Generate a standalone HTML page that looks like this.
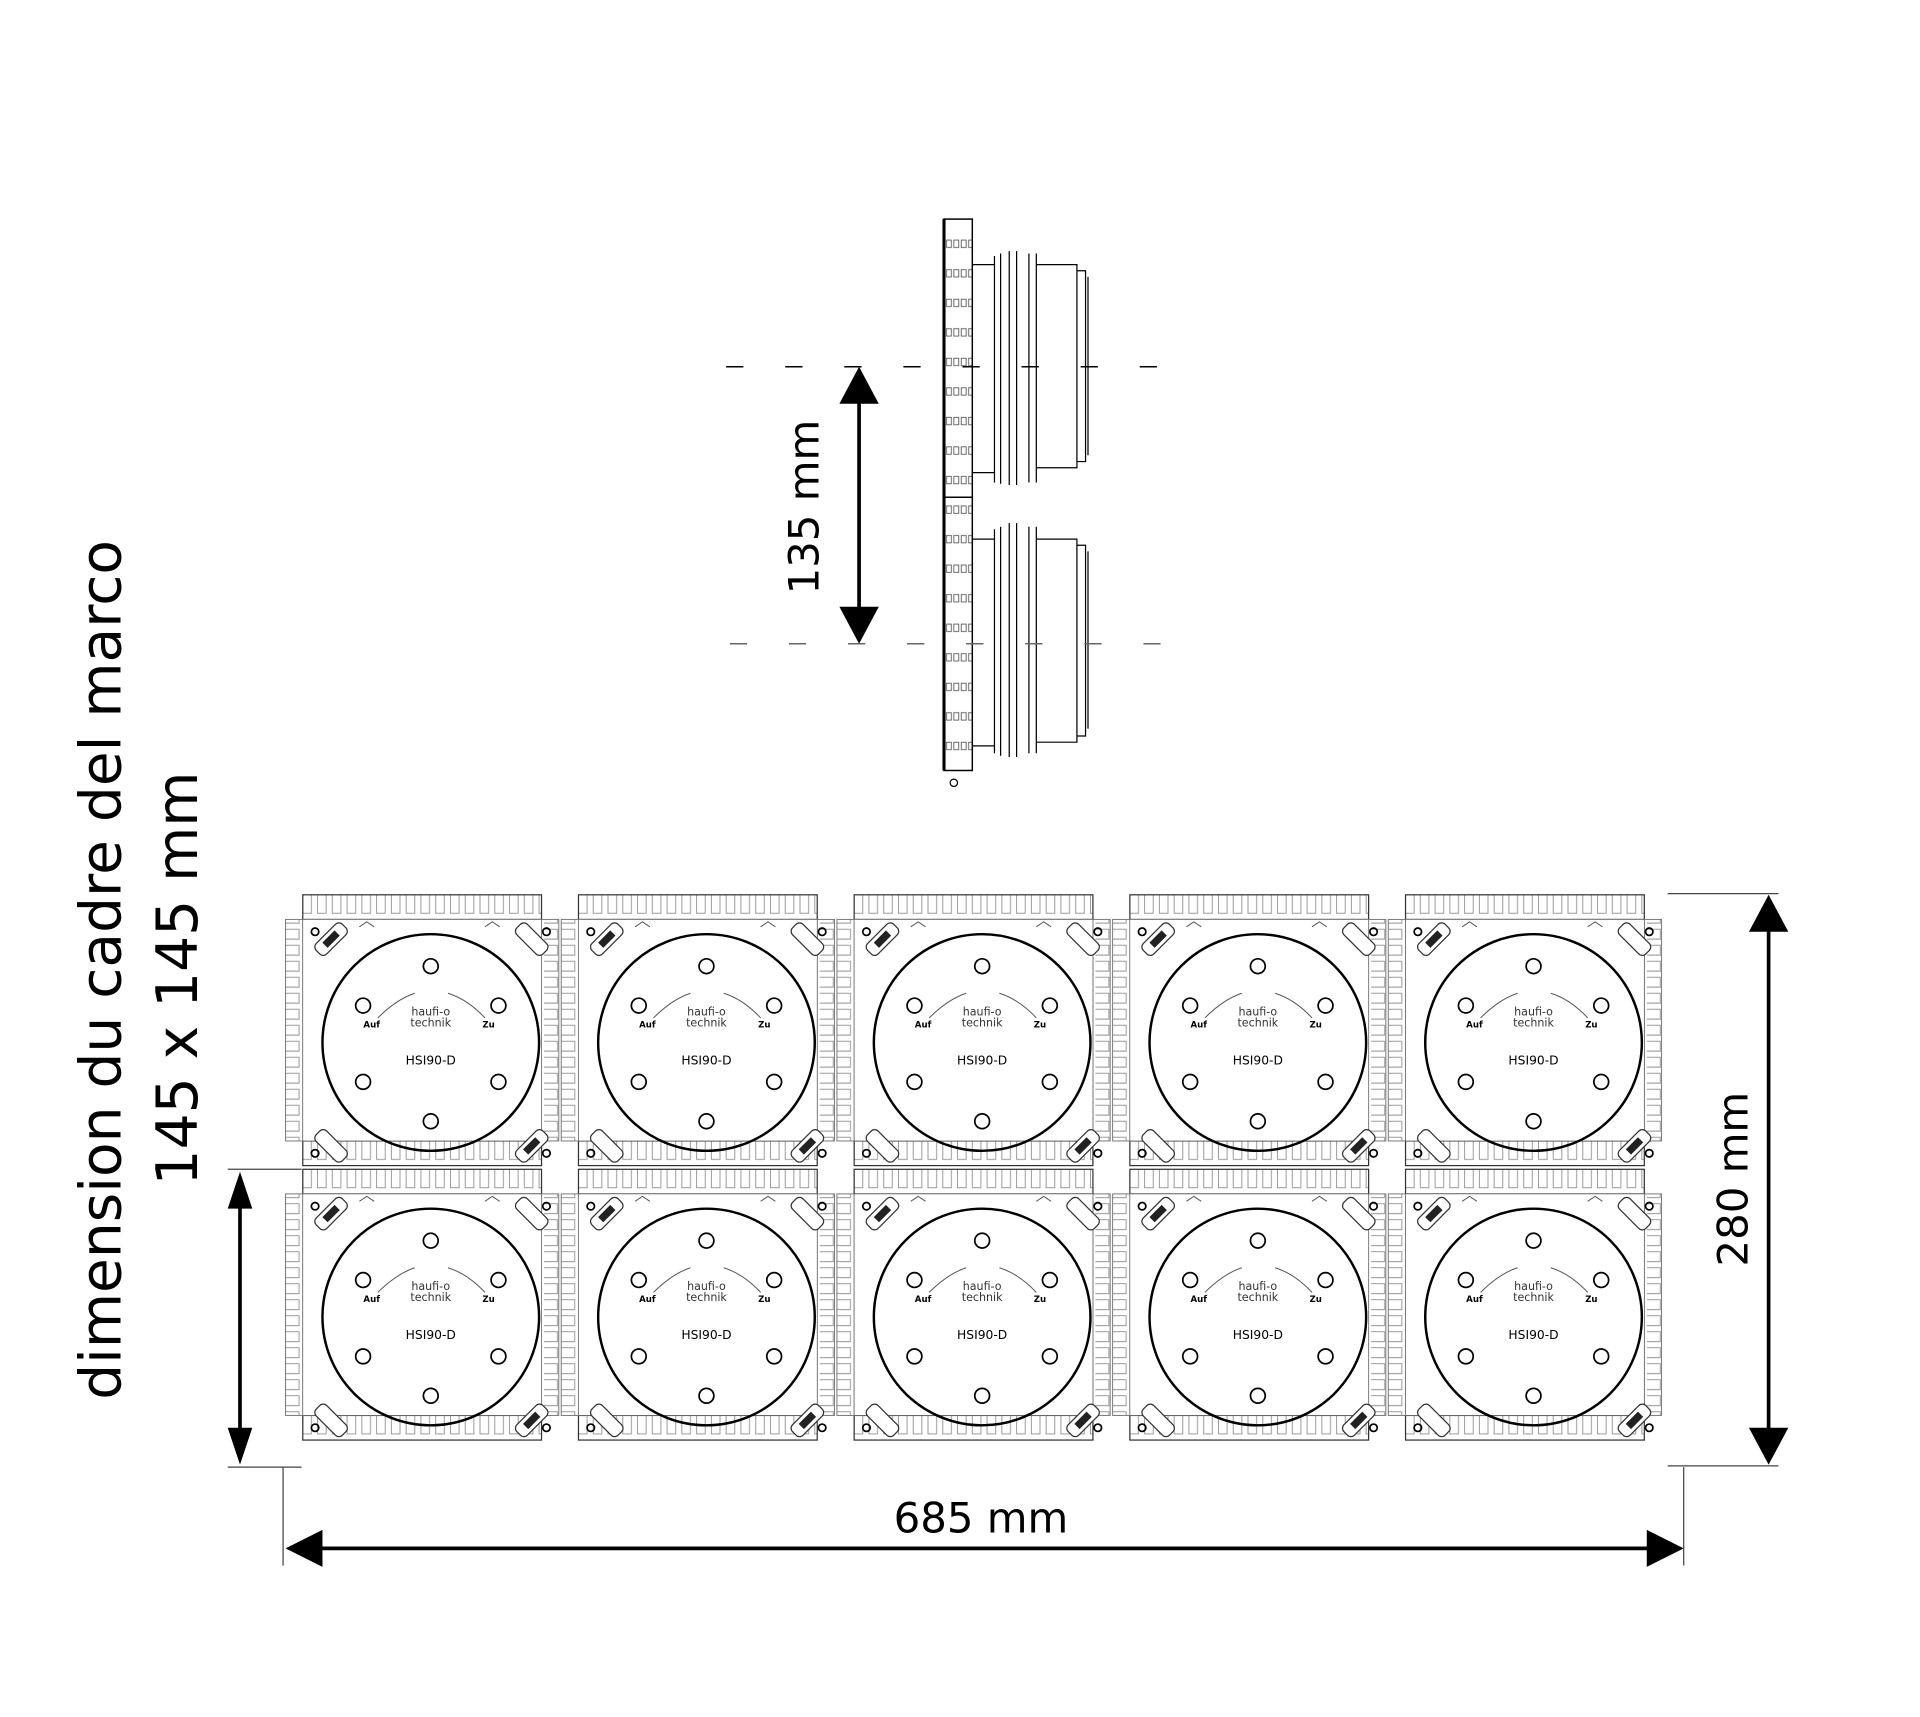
<!DOCTYPE html>
<html><head><meta charset="utf-8"><style>html,body{margin:0;padding:0;background:#fff}svg{display:block}</style></head>
<body>
<svg width="1920" height="1717" viewBox="0 0 1560 1395" preserveAspectRatio="none" xmlns="http://www.w3.org/2000/svg" font-family="DejaVu Sans, Liberation Sans, sans-serif">
<defs>
<pattern id="pv" width="12" height="20" patternUnits="userSpaceOnUse"><rect width="12" height="20" fill="#fff"/><path d="M2 0V15H9V0" fill="none" stroke="#999" stroke-width="0.8"/></pattern>
<pattern id="ph" width="14" height="13" patternUnits="userSpaceOnUse"><rect width="14" height="13" fill="#fff"/><path d="M0 2H11V10H0" fill="none" stroke="#999" stroke-width="0.8"/></pattern>
<pattern id="ps" width="6" height="24" patternUnits="userSpaceOnUse"><rect width="6" height="24" fill="#fff"/><path d="M1 3h4v6h-4z" fill="none" stroke="#555" stroke-width="0.7"/></pattern>
<g id="tile">
<rect x="14" y="0" width="194" height="20" fill="url(#pv)" stroke="#333" stroke-width="1"/>
<rect x="14" y="200" width="194" height="20" fill="url(#pv)" stroke="#333" stroke-width="1"/>
<rect x="0" y="20" width="14" height="180" fill="url(#ph)" stroke="#777" stroke-width="0.8"/>
<rect x="208" y="20" width="14" height="180" fill="url(#ph)" stroke="#777" stroke-width="0.8"/>
<rect x="14" y="20" width="194" height="180" fill="#fff" stroke="#666" stroke-width="0.6"/>
<circle cx="118" cy="120" r="88" fill="none" stroke="#000" stroke-width="2"/>
<g fill="none" stroke="#000" stroke-width="1.4">
<circle cx="118" cy="58" r="6"/><circle cx="118" cy="184" r="6"/>
<circle cx="63" cy="90" r="6"/><circle cx="173" cy="90" r="6"/>
<circle cx="63" cy="152" r="6"/><circle cx="173" cy="152" r="6"/>
<circle cx="24" cy="30" r="3"/><circle cx="212" cy="30" r="3"/>
<circle cx="24" cy="210" r="3"/><circle cx="212" cy="210" r="3"/>
</g>
<g fill="none" stroke="#555" stroke-width="0.8">
<path d="M75 100Q90 85 105 80"/><path d="M132 80Q148 85 162 100"/>
<path d="M60 26l6-4 6 4M162 26l6-4 6 4"/>
</g>
<g fill="#fff" stroke="#333" stroke-width="1">
<rect x="22" y="30" width="30" height="12" rx="4" transform="rotate(-45 37 36)"/>
<rect x="185" y="30" width="30" height="12" rx="4" transform="rotate(45 200 36)"/>
<rect x="22" y="198" width="30" height="12" rx="4" transform="rotate(45 37 204)"/>
<rect x="185" y="198" width="30" height="12" rx="4" transform="rotate(-45 200 204)"/>
</g>
<rect x="30" y="33" width="14" height="6" fill="#222" transform="rotate(-45 37 36)"/>
<rect x="193" y="201" width="14" height="6" fill="#222" transform="rotate(-45 200 204)"/>
<text x="70" y="108" font-size="7" font-weight="bold" text-anchor="middle">Auf</text>
<text x="165" y="108" font-size="7" font-weight="bold" text-anchor="middle">Zu</text>
<text x="118" y="98" font-size="9" text-anchor="middle" fill="#333">haufi-o</text>
<text x="118" y="107" font-size="9" text-anchor="middle" fill="#333">technik</text>
<text x="118" y="138" font-size="10" text-anchor="middle">HSI90-D</text>
</g>
</defs>

<use href="#tile" x="232" y="727"/><use href="#tile" x="456" y="727"/><use href="#tile" x="680" y="727"/><use href="#tile" x="904" y="727"/><use href="#tile" x="1128" y="727"/>
<use href="#tile" x="232" y="950"/><use href="#tile" x="456" y="950"/><use href="#tile" x="680" y="950"/><use href="#tile" x="904" y="950"/><use href="#tile" x="1128" y="950"/>

<g stroke="#000" fill="none">
<rect x="767" y="178" width="23" height="228" fill="url(#ps)" stroke-width="1.2"/>
<rect x="767" y="404" width="23" height="222" fill="url(#ps)" stroke-width="1.2"/>
<line x1="767" y1="178" x2="767" y2="626" stroke-width="2.5"/>
<g stroke-width="1">
<path d="M790 215H808M790 384H808M808 208V392M813 206V393M820 204V394M826 204V394M836 206V392M842 206V392M842 215H875V380H842M875 220H882V375H875M884 225V370"/>
<path d="M790 438H808M790 606H808M808 430V612M813 428V614M820 425V615M826 425V615M836 428V612M842 428V612M842 438H875V603H842M875 443H882V598H875M884 448V592"/>
</g>
<circle cx="775" cy="636" r="3" stroke-width="1"/>
</g>
<g stroke="#000" stroke-width="1.2" stroke-dasharray="14 34">
<line x1="590" y1="298" x2="940" y2="298"/>
</g>
<g stroke="#666" stroke-width="1.2" stroke-dasharray="14 34">
<line x1="593" y1="523" x2="945" y2="523"/>
</g>

<g stroke="#000" stroke-width="3" fill="#000">
<line x1="698" y1="320" x2="698" y2="500"/>
<path d="M698 298L682 328H714Z" stroke="none"/><path d="M698 523L682 493H714Z" stroke="none"/>
<line x1="195" y1="975" x2="195" y2="1168"/>
<path d="M195 952L185 982H205Z" stroke="none"/><path d="M195 1190L185 1160H205Z" stroke="none"/>
<line x1="1437" y1="750" x2="1437" y2="1168"/>
<path d="M1437 727L1421 757H1453Z" stroke="none"/><path d="M1437 1190L1421 1160H1453Z" stroke="none"/>
<line x1="255" y1="1258" x2="1345" y2="1258"/>
<path d="M232 1258L262 1243V1273Z" stroke="none"/><path d="M1368 1258L1338 1243V1273Z" stroke="none"/>
</g>
<g stroke="#444" stroke-width="1">
<line x1="185" y1="950" x2="245" y2="950"/><line x1="185" y1="1192" x2="245" y2="1192"/>
<line x1="1355" y1="726" x2="1445" y2="726"/><line x1="1355" y1="1191" x2="1445" y2="1191"/>
<line x1="230" y1="1192" x2="230" y2="1272"/><line x1="1368" y1="1192" x2="1368" y2="1272"/>
</g>

<g font-size="34" fill="#000">
<text x="797" y="1245" text-anchor="middle">685 mm</text>
<text transform="translate(1420 958) rotate(-90)" text-anchor="middle">280 mm</text>
<text transform="translate(665 412) rotate(-90)" text-anchor="middle">135 mm</text>
</g>
<g font-size="46" fill="#000">
<text transform="translate(98 788) rotate(-90)" text-anchor="middle">dimension du cadre del marco</text>
<text transform="translate(160 795) rotate(-90)" text-anchor="middle">145 x 145 mm</text>
</g>
</svg>
</body></html>
